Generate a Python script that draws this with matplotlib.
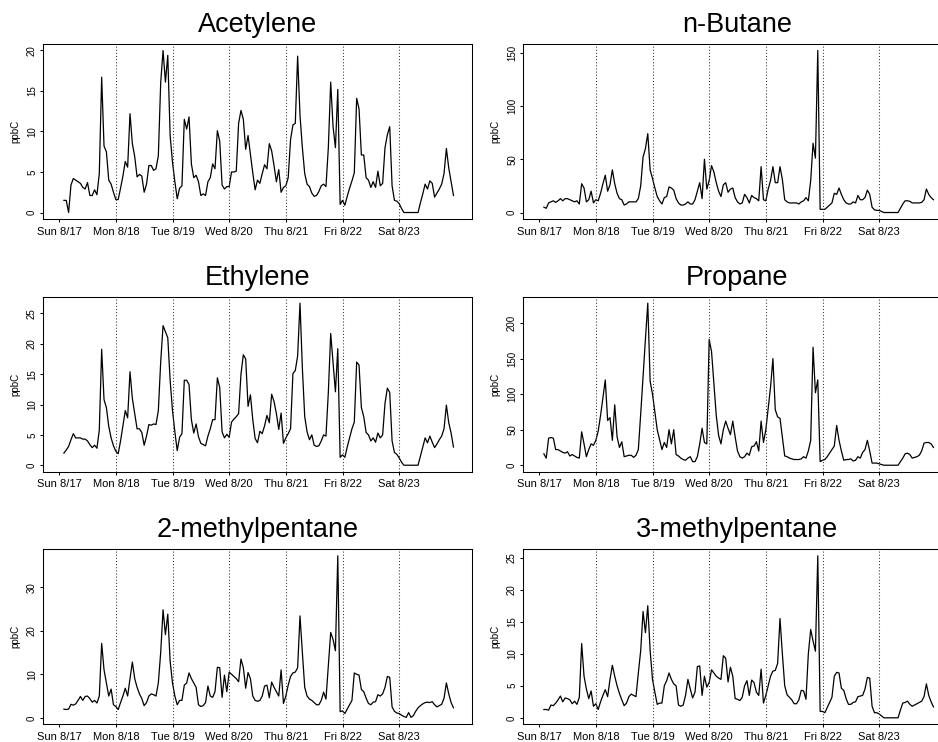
import numpy as np
import matplotlib
matplotlib.use('Agg')
import matplotlib.pyplot as plt
from matplotlib.ticker import MultipleLocator

plt.rcParams['font.family'] = ['Liberation Sans', 'DejaVu Sans']

# hourly readings, Sun 8/17 02:00 .. Sat 8/23 23:00
day_labels = ['Sun 8/17', 'Mon 8/18', 'Tue 8/19', 'Wed 8/20', 'Thu 8/21', 'Fri 8/22', 'Sat 8/23']

acetylene = [
    1.5, 1.5, 0, 3.4, 4.2, 4.0, 3.8, 3.6, 3.1, 2.9, 3.7, 2.1, 2.1, 2.8, 2.2, 4.8, 16.7, 8.2, 7.5, 4.0, 3.5, 2.5,
    1.6, 1.6, 3.0, 4.5, 6.3, 5.6, 12.2, 8.5, 6.9, 4.4, 4.7, 4.5, 2.5, 3.5, 5.8, 5.8, 5.2, 5.4, 7.0, 16.0, 20.0, 16.1, 19.4, 9.5,
    6.2, 3.8, 1.7, 3.0, 3.3, 11.5, 10.3, 11.8, 6.0, 4.3, 4.6, 3.8, 2.1, 2.3, 2.1, 3.8, 4.3, 6.0, 5.4, 10.1, 8.8, 3.4, 2.9, 3.2,
    3.2, 5.0, 5.0, 5.1, 11.0, 12.6, 11.5, 7.8, 9.5, 7.2, 4.9, 2.8, 4.0, 3.6, 4.8, 5.9, 5.4, 8.5, 7.6, 5.8, 3.8, 5.3, 2.5, 3.1,
    3.3, 4.3, 9.0, 10.8, 11.0, 19.3, 12.0, 8.0, 4.8, 3.5, 3.2, 2.4, 2.0, 2.1, 2.6, 3.3, 3.5, 3.2, 8.0, 16.1, 10.6, 8.0, 15.2, 1.0,
    1.5, 0.9, 2.0, 3.0, 3.9, 4.9, 14.1, 12.8, 7.1, 7.1, 4.3, 4.0, 3.1, 3.8, 3.1, 5.1, 3.3, 3.6, 8.0, 9.6, 10.6, 3.3, 1.5, 1.4,
    1.1, 0.5, 0, 0, 0, 0, 0, 0, 0, 1.2, 2.3, 3.5, 2.9, 3.9, 3.6, 1.9, 2.4, 2.9, 3.5, 4.8, 7.9, 5.5, 3.8, 2.1,
]

butane = [
    5, 4, 9, 10, 11, 9.5, 11, 13, 11, 13, 13, 12, 11, 10, 11, 8, 27, 23, 10, 12, 20, 9,
    12, 11, 18, 27, 35, 20, 26, 40, 27, 18, 13, 12, 7, 8, 10, 10, 10, 10, 13, 25, 52, 60, 74, 40,
    32, 23, 15, 11, 8, 14, 15, 24, 23, 21, 13, 9, 7, 7, 8, 10, 8, 8, 12, 20, 28, 13, 50, 22,
    30, 44, 38, 28, 20, 15, 26, 28, 19, 22, 23, 14, 10, 8, 9, 17, 14, 9, 16, 14, 13, 11, 43, 12,
    11, 22, 30, 43, 28, 28, 43, 31, 12, 10, 9, 9, 9, 9, 8, 10, 11, 14, 11, 30, 65, 51, 152, 3,
    3, 3, 5, 7, 9, 18, 17, 23, 17, 12, 9, 8, 8, 10, 9, 16, 12, 12, 14, 21, 17, 5, 2.5, 2,
    2, 1, 0, 0, 0, 0, 0, 0, 0, 4, 8, 11, 11, 10.5, 9, 9, 9, 9, 9.5, 12, 22, 17, 14, 12,
]

ethylene = [
    2.0, 2.5, 3.1, 4.2, 5.2, 4.5, 4.5, 4.5, 4.3, 4.3, 4.0, 3.4, 2.9, 3.3, 2.8, 5.8, 19.1, 10.8, 9.5, 6.4, 4.5, 3.2,
    2.3, 1.9, 4.0, 6.5, 9.0, 7.8, 15.4, 11.0, 8.5, 6.0, 6.0, 5.4, 3.3, 4.8, 6.7, 6.6, 6.8, 6.7, 9.0, 17.0, 23.0, 22.0, 21.0, 14.0,
    9.0, 5.5, 2.4, 4.6, 5.2, 14.0, 14.0, 13.3, 7.5, 5.3, 6.8, 4.7, 3.6, 3.4, 3.2, 4.8, 6.0, 7.5, 7.5, 14.4, 12.8, 5.5, 4.5, 5.1,
    4.6, 7.1, 7.6, 8.0, 8.5, 15.0, 18.2, 17.5, 9.7, 11.6, 7.5, 4.4, 3.7, 5.6, 5.2, 6.5, 8.2, 7.0, 11.7, 10.5, 8.5, 5.9, 8.6, 3.6,
    4.5, 5.2, 6.0, 15.1, 15.6, 18.0, 26.7, 16.0, 8.0, 5.5, 4.2, 5.0, 3.3, 3.1, 3.2, 4.0, 5.0, 4.8, 12.0, 21.7, 17.0, 12.1, 19.2, 1.3,
    1.7, 1.3, 3.0, 4.5, 6.0, 7.1, 17.0, 16.5, 9.5, 8.0, 5.4, 5.0, 4.0, 4.5, 3.8, 5.3, 4.5, 5.0, 10.2, 12.7, 12.0, 4.0, 2.1, 1.8,
    1.2, 0.5, 0, 0, 0, 0, 0, 0, 0, 1.5, 3.0, 4.5, 3.7, 4.8, 3.8, 2.9, 3.5, 4.2, 4.8, 6.0, 9.9, 7.0, 5.3, 3.0,
]

propane = [
    16, 10, 38, 39, 38, 22, 22, 20, 18, 17, 19, 13, 15, 13, 11, 10, 47, 30, 12, 22, 30, 28,
    35, 48, 70, 95, 120, 63, 67, 35, 85, 40, 25, 33, 12, 13, 14, 14, 11, 14, 22, 72, 125, 177, 228, 118,
    100, 75, 50, 36, 22, 32, 25, 50, 30, 50, 15, 13, 10, 8, 7, 10, 12, 5, 5, 12, 30, 52, 32, 30,
    177, 160, 115, 70, 42, 30, 50, 62, 52, 43, 62, 40, 20, 12, 10, 12, 17, 14, 26, 27, 33, 20, 62, 32,
    50, 80, 110, 150, 78, 68, 66, 40, 13, 12, 10, 9, 8, 8, 8, 9, 12, 10, 20, 35, 166, 102, 120, 5,
    7, 8, 12, 17, 22, 27, 56, 35, 20, 7, 8, 8, 9, 6, 7, 12, 10, 18, 22, 35, 20, 3, 3, 3,
    2, 1, 0, 0, 0, 0, 0, 0, 0, 5, 10, 16, 17, 15, 10, 11, 12, 14, 20, 31, 32, 32, 30, 25,
]

methylpentane2 = [
    2.0, 1.9, 2.0, 3.1, 2.9, 3.2, 4.0, 4.9, 4.0, 4.9, 5.0, 4.4, 3.6, 4.0, 3.4, 5.0, 17.1, 11.0, 8.0, 5.0, 6.6, 3.0,
    2.6, 1.9, 3.5, 5.0, 6.8, 5.0, 9.0, 12.8, 9.0, 7.0, 5.5, 4.4, 2.8, 3.5, 5.0, 5.5, 5.3, 5.0, 8.0, 15.0, 24.8, 19.1, 23.8, 13.0,
    8.0, 5.0, 3.0, 4.0, 4.0, 7.5, 8.0, 10.3, 9.0, 8.0, 7.0, 3.0, 2.6, 2.8, 3.5, 7.3, 5.0, 4.7, 6.0, 11.6, 11.5, 4.7, 9.8, 6.0,
    10.5, 10.0, 9.5, 9.0, 8.3, 13.5, 11.5, 6.8, 10.4, 9.0, 5.0, 4.0, 3.8, 4.0, 5.0, 7.3, 7.5, 4.6, 8.2, 7.0, 6.0, 5.0, 11.0, 3.3,
    5.0, 7.5, 9.5, 10.3, 10.5, 11.5, 23.4, 15.0, 7.0, 5.0, 4.3, 4.0, 3.5, 3.0, 3.0, 4.0, 5.9, 4.3, 12.0, 19.6, 18.0, 15.4, 37.2, 1.4,
    1.6, 1.0, 2.0, 3.0, 4.0, 10.3, 10.0, 9.8, 6.5, 6.0, 4.5, 3.3, 3.0, 3.6, 3.7, 5.3, 5.0, 5.5, 7.0, 9.5, 9.3, 2.5, 1.5, 1.1,
    1.0, 0.6, 0.3, 0.1, 1.2, 0.1, 0.5, 1.5, 2.3, 2.8, 3.2, 3.5, 3.6, 3.5, 3.7, 3.0, 2.5, 2.8, 3.1, 4.5, 8.0, 5.5, 3.5, 2.3,
]

methylpentane3 = [
    1.3, 1.3, 1.2, 2.0, 1.9, 2.3, 2.8, 3.4, 2.5, 3.1, 3.0, 2.8, 2.2, 2.6, 2.1, 3.2, 11.6, 6.5, 4.5, 3.0, 4.2, 1.8,
    2.2, 1.3, 2.5, 3.5, 4.4, 3.3, 6.0, 8.2, 6.5, 5.0, 3.8, 2.8, 1.9, 2.3, 3.3, 3.7, 3.5, 3.3, 7.0, 10.5, 16.6, 13.3, 17.5, 10.5,
    6.0, 4.0, 2.1, 2.3, 2.3, 5.0, 5.8, 7.0, 6.0, 5.3, 5.0, 2.0, 1.8, 2.0, 3.5, 6.0, 4.5, 3.1, 4.0, 8.0, 8.1, 3.5, 6.5, 4.8,
    5.5, 7.5, 7.0, 6.5, 6.2, 6.0, 9.7, 9.3, 5.6, 7.9, 6.5, 3.0, 2.9, 2.7, 3.2, 5.0, 5.8, 3.5, 5.9, 5.5, 4.0, 3.5, 7.6, 2.3,
    3.5, 5.0, 6.5, 7.3, 7.4, 8.5, 15.5, 10.0, 5.0, 3.6, 3.2, 2.8, 2.2, 2.2, 2.8, 4.3, 4.2, 2.9, 10.0, 13.8, 12.0, 10.4, 25.3, 1.0,
    1.0, 0.8, 1.6, 2.4, 3.2, 6.5, 7.1, 7.0, 4.6, 4.3, 3.0, 2.1, 2.1, 2.4, 2.5, 3.3, 3.4, 3.5, 4.5, 6.3, 6.2, 1.8, 0.8, 0.8,
    0.6, 0.3, 0, 0, 0, 0, 0, 0, 0, 1.2, 2.3, 2.4, 2.6, 2.1, 1.8, 2.0, 2.2, 2.4, 2.6, 3.3, 5.3, 3.5, 2.5, 1.7,
]

hours = np.arange(2, 2 + len(acetylene))
day_ticks = np.arange(len(day_labels)) * 24
t_range = (0, 168)

panels = [
    ('Acetylene', acetylene, 5),
    ('n-Butane', butane, 50),
    ('Ethylene', ethylene, 5),
    ('Propane', propane, 50),
    ('2-methylpentane', methylpentane2, 10),
    ('3-methylpentane', methylpentane3, 5),
]

W, H = 938, 742
fig = plt.figure(figsize=(W / 100, H / 100), dpi=100)

lefts = [43.3, 523.3]
tops = [44, 296.7, 549.3]
pw, ph = 428.4, 175


def draw_panel(ax, title, values, step):
    vals = np.array(values, dtype=float)
    ax.plot(hours, vals, color='black', lw=0.9)
    for d in day_ticks[1:]:
        ax.axvline(d, color='#333333', lw=0.75, ls=(0, (1, 2)))

    span = t_range[1] - t_range[0]
    ax.set_xlim(t_range[0] - 0.04 * span, t_range[1] + 0.04 * span)
    vmax = vals.max()
    ax.set_ylim(-0.04 * vmax, 1.04 * vmax)

    ax.set_xticks(day_ticks)
    ax.set_xticklabels(day_labels)
    ax.yaxis.set_major_locator(MultipleLocator(step))
    ax.tick_params(axis='x', direction='out', length=2.5, width=0.75, labelsize=8, pad=3)
    ax.tick_params(axis='y', direction='out', length=2.5, width=0.75, labelsize=7, pad=2, labelrotation=90)
    for lbl in ax.get_yticklabels():
        lbl.set_va('center')
    for sp in ax.spines.values():
        sp.set_linewidth(0.75)

    ax.set_title(title, fontsize=19.5, pad=8.5)
    ax.text(-28 / pw, 0.5, 'ppbC', transform=ax.transAxes, rotation=90,
            ha='center', va='center', fontsize=7)


for i, (title, values, step) in enumerate(panels):
    row, col = divmod(i, 2)
    ax = fig.add_axes([lefts[col] / W, 1 - (tops[row] + ph) / H, pw / W, ph / H])
    draw_panel(ax, title, values, step)

fig.savefig('out.png', dpi=100)
